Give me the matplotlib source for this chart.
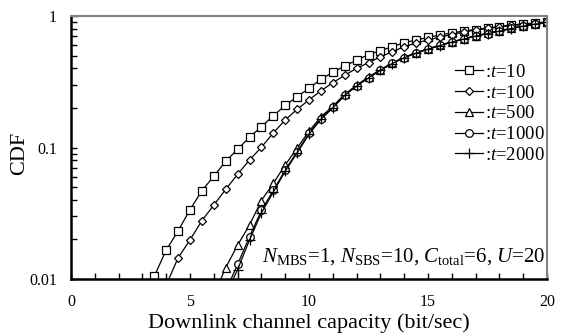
import matplotlib
matplotlib.use("Agg")
import matplotlib.pyplot as plt
from matplotlib.ticker import FixedLocator, MultipleLocator, LogLocator, NullFormatter

plt.rcParams['font.family'] = ['Liberation Serif', 'DejaVu Serif']
plt.rcParams['mathtext.fontset'] = 'custom'
plt.rcParams['mathtext.rm'] = 'Liberation Serif'
plt.rcParams['mathtext.it'] = 'Liberation Serif:italic'

# capacity grid (bit/sec), step 0.5
x_sq = [3.5 + 0.5 * i for i in range(34)]
x_di = [4.0 + 0.5 * i for i in range(33)]
x_tr = [6.0 + 0.5 * i for i in range(29)]
x_ci = [6.5 + 0.5 * i for i in range(28)]
x_pl = [6.5 + 0.5 * i for i in range(28)]

cdf_t10 = [0.0105, 0.0166, 0.0232, 0.0337, 0.0469, 0.0605, 0.0785, 0.0969, 0.1196, 0.144,
           0.174, 0.209, 0.243, 0.282, 0.330, 0.373, 0.417, 0.461, 0.508, 0.545,
           0.584, 0.627, 0.657, 0.687, 0.717, 0.743, 0.769, 0.789, 0.810, 0.832,
           0.855, 0.869, 0.885, 0.900]
cdf_t100 = [0.009, 0.0145, 0.0198, 0.0278, 0.0365, 0.048, 0.0626, 0.0803, 0.1004, 0.129,
            0.162, 0.195, 0.230, 0.270, 0.311, 0.354, 0.400, 0.441, 0.490, 0.535,
            0.584, 0.623, 0.657, 0.692, 0.723, 0.755, 0.783, 0.804, 0.825, 0.847,
            0.861, 0.877, 0.893]
cdf_t500 = [0.0075, 0.0122, 0.0181, 0.0257, 0.0395, 0.0534, 0.0736, 0.099, 0.133, 0.171,
            0.206, 0.254, 0.298, 0.343, 0.391, 0.440, 0.486, 0.526, 0.564, 0.600,
            0.637, 0.672, 0.708, 0.739, 0.772, 0.806, 0.841, 0.871, 0.902]
cdf_t1000 = [0.0081, 0.0129, 0.0210, 0.0332, 0.0471, 0.0674, 0.0929, 0.128, 0.166, 0.202,
             0.251, 0.295, 0.340, 0.388, 0.437, 0.483, 0.523, 0.561, 0.597, 0.634,
             0.669, 0.705, 0.736, 0.769, 0.804, 0.839, 0.869, 0.900]
cdf_t2000 = [0.0075, 0.0118, 0.0198, 0.0318, 0.0458, 0.066, 0.091, 0.126, 0.164, 0.200,
             0.249, 0.293, 0.338, 0.386, 0.435, 0.481, 0.521, 0.559, 0.595, 0.632,
             0.667, 0.703, 0.734, 0.767, 0.802, 0.837, 0.867, 0.898]

series = [
    (x_sq, cdf_t10, 's', ':$t$=10'),
    (x_di, cdf_t100, 'D', ':$t$=100'),
    (x_tr, cdf_t500, '^', ':$t$=500'),
    (x_ci, cdf_t1000, 'o', ':$t$=1000'),
    (x_pl, cdf_t2000, '+', ':$t$=2000'),
]
msizes = {'s': 5.5, 'D': 4.5, '^': 5.5, 'o': 5.5, '+': 7}

fig = plt.figure(figsize=(5.63, 3.35), dpi=100)
ax = fig.add_axes([71 / 563, 56 / 335, 476 / 563, 263 / 335])

for xs, ys, mk, lab in series:
    ax.plot(xs, ys, color='black', lw=0.9, marker=mk, ms=msizes[mk],
            mfc='white', mec='black', mew=0.9, label=lab)

ax.set_yscale('log')
ax.set_xlim(0, 20)
ax.set_ylim(0.01, 1)

ax.xaxis.set_major_locator(FixedLocator([0, 5, 10, 15, 20]))
ax.xaxis.set_minor_locator(MultipleLocator(1))
ax.yaxis.set_major_locator(FixedLocator([0.01, 0.1, 1]))
ax.yaxis.set_minor_locator(LogLocator(base=10, subs=range(2, 10)))
ax.yaxis.set_minor_formatter(NullFormatter())
ax.set_yticklabels(['0.01', '0.1', '1'])

ax.tick_params(axis='both', which='both', direction='in', length=4, width=1,
               labelsize=11.5)
ax.tick_params(axis='x', which='both', pad=11, top=False)
ax.tick_params(axis='y', which='both', pad=10, right=False)

for s in ['left', 'bottom']:
    ax.spines[s].set_linewidth(1.8)
    ax.spines[s].set_color('black')
for s in ['top', 'right']:
    ax.spines[s].set_linewidth(1.5)
    ax.spines[s].set_color('#808080')

ax.set_xlabel('Downlink channel capacity (bit/sec)', fontsize=16, labelpad=2)
ax.set_ylabel('CDF', fontsize=16)
ax.yaxis.set_label_coords(-0.088, 0.479)

leg = ax.legend(loc='upper right', bbox_to_anchor=(1.0, 0.825), frameon=False,
                fontsize=13.5, handlelength=1.45, handletextpad=0.15,
                labelspacing=0.19, borderpad=0.1, borderaxespad=0)

ax.text(0.997, 0.065, r'$N_{\rm MBS}$=1, $N_{\rm SBS}$=10, $C_{\rm total}$=6, $U$=20',
        transform=ax.transAxes, ha='right', va='baseline', fontsize=15)

fig.savefig('out.png', dpi=100)
